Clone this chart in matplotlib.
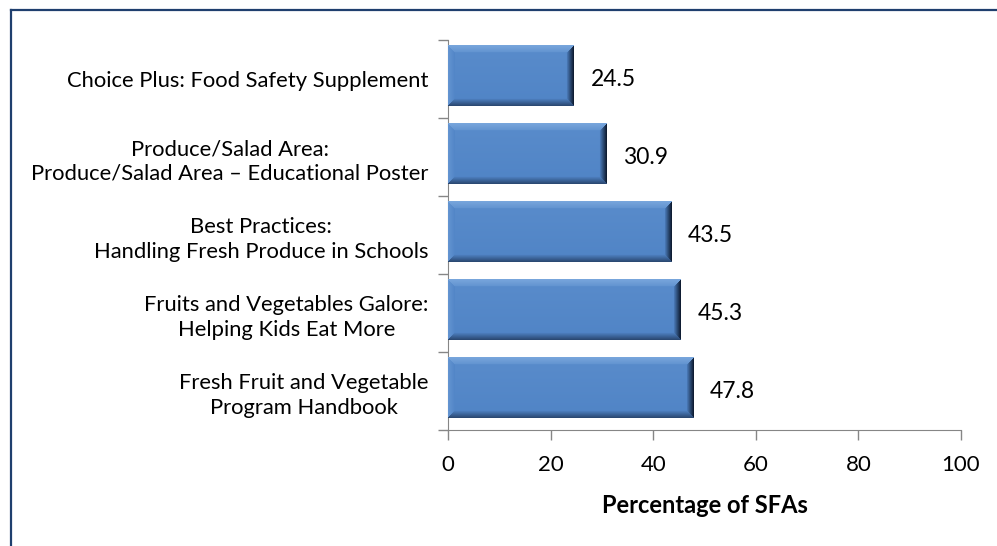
import numpy as np
import matplotlib
matplotlib.use("Agg")
import matplotlib.pyplot as plt
from matplotlib.lines import Line2D

categories = [
    "Choice Plus: Food Safety Supplement",
    "Produce/Salad Area:\nProduce/Salad Area \u2013 Educational Poster",
    "Best Practices:\nHandling Fresh Produce in Schools",
    "Fruits and Vegetables Galore:\nHelping Kids Eat More",
    "Fresh Fruit and Vegetable\nProgram Handbook",
]
values = [24.5, 30.9, 43.5, 45.3, 47.8]
xticks = [0, 20, 40, 60, 80, 100]
xlabel = "Percentage of SFAs"

plt.rcParams['font.family'] = ['Lato', 'DejaVu Sans']

W, H = 997, 546
fig = plt.figure(figsize=(W / 100, H / 100), dpi=100)
ax = fig.add_axes([448 / W, 1 - 430 / H, (961 - 448) / W, (430 - 40) / H])

base = np.array([0x50, 0x84, 0xC6]) / 255.0
light = np.array([0x9C, 0xC4, 0xF0]) / 255.0
dark = np.array([0x1C, 0x30, 0x50]) / 255.0
vdark = np.array([0x0C, 0x18, 0x2C]) / 255.0

def bevel_image(wpx, hpx, b=7):
    img = np.tile(base, (hpx, wpx, 1)).astype(float)
    ii, jj = np.mgrid[0:hpx, 0:wpx]
    d = np.stack([ii, hpx - 1 - ii, jj, wpx - 1 - jj])
    m = d.argmin(axis=0)
    dmin = d.min(axis=0)
    inside = dmin < b
    t = np.clip(1 - dmin / b, 0, 1)
    for k, col, s in [(0, light, 0.65), (1, dark, 0.7), (2, light, 0.25), (3, vdark, 0.95)]:
        sel = inside & (m == k)
        w = (t * s)[sel][:, None]
        if k == 0:
            w = (0.35 + 0.45 * t[sel])[:, None] * s
        img[sel] = img[sel] * (1 - w) + col * w
    face = ~inside
    g = (ii / hpx)[face][:, None]
    img[face] = img[face] * (1 - 0.12 * (1 - g)) + light * 0.12 * (1 - g)
    return np.clip(img, 0, 1)

bar_h = 0.78
ys = np.arange(len(values))
bars = ax.barh(ys - 0.04, values, height=bar_h, color=base, edgecolor='none', zorder=2)
px_per_unit = (961 - 448) / 100.0
for rect, v, yc in zip(bars, values, ys):
    x0, y0 = rect.get_x(), rect.get_y()
    w, h = rect.get_width(), rect.get_height()
    wpx = max(int(w * px_per_unit), 2)
    hpx = int(h * 78)
    img = bevel_image(wpx, hpx)
    ax.imshow(img, extent=(x0, x0 + w, y0 + h, y0), aspect='auto', zorder=3, interpolation='bilinear')
    ax.text(x0 + w + 3.3, yc, f"{v:.1f}", va='center', ha='left', fontsize=16.5, color='black')

ax.set_xlim(0, 100)
ax.set_ylim(len(values) - 0.5, -0.5)
ax.set_xticks(xticks)
ax.set_xticklabels([str(t) for t in xticks], fontsize=16)
ax.set_yticks(ys)
ax.set_yticklabels(categories, fontsize=15.8, multialignment='center', linespacing=1.3)
ax.set_yticks(np.arange(-0.5, len(values), 1.0), minor=True)
ax.tick_params(axis='y', which='major', length=0, pad=14)
ax.tick_params(axis='y', which='minor', length=7, color='#868686', width=1)
ax.tick_params(axis='x', which='major', length=7, color='#868686', width=1, pad=11, direction='out')
ax.set_xlabel(xlabel, fontsize=17, fontweight='bold', labelpad=14)
for s in ['top', 'right']:
    ax.spines[s].set_visible(False)
for s in ['left', 'bottom']:
    ax.spines[s].set_color('#868686')
ax.set_facecolor('none')

border = '#1F3F6E'
fig.add_artist(Line2D([11 / W, 1.0], [1 - 10 / H, 1 - 10 / H], color=border, lw=1.6, transform=fig.transFigure))
fig.add_artist(Line2D([11 / W, 11 / W], [0, 1 - 10 / H], color=border, lw=1.6, transform=fig.transFigure))

fig.savefig("out.png", dpi=100)
